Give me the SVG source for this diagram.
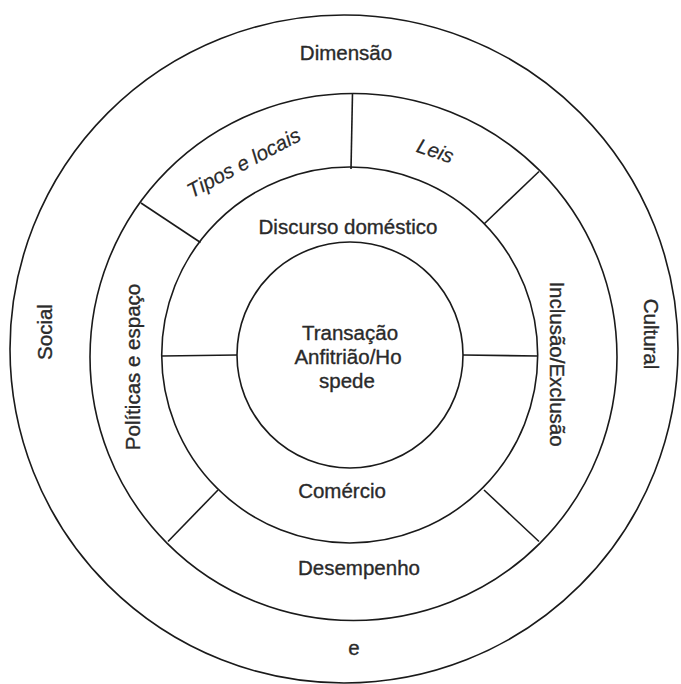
<svg xmlns="http://www.w3.org/2000/svg" width="681" height="684" viewBox="0 0 681 684">
<style>
.ring{fill:none;stroke:#1a1a1a;stroke-width:1.6}
.div{stroke:#1a1a1a;stroke-width:1.6;fill:none}
text{font-family:"Liberation Sans",Arial,sans-serif;font-size:20.5px;fill:#2a2a2a;stroke:#2a2a2a;stroke-width:0.35;text-anchor:middle}
.it{font-style:italic;stroke-width:0.2}
</style>
<rect width="681" height="684" fill="#fff"/>
<g id="ring-outer">
<circle class="ring" cx="344" cy="349" r="334"/>
<text x="346" y="59.5">Dimensão</text>
<text transform="translate(51.5,332) rotate(-90)">Social</text>
<text transform="translate(644,334) rotate(90)">Cultural</text>
<text x="354" y="655">e</text>
</g>
<g id="ring-middle">
<circle class="ring" cx="353.5" cy="357" r="263.5"/>
<text class="it" transform="translate(247,169) rotate(-28)">Tipos e locais</text>
<text class="it" transform="translate(433,157.5) rotate(19)">Leis</text>
<text transform="translate(140,367) rotate(-90)">Políticas e espaço</text>
<text transform="translate(549.5,364) rotate(90)">Inclusão/Exclusão</text>
<text x="359" y="575">Desempenho</text>
</g>
<g id="ring-inner">
<circle class="ring" cx="349.7" cy="355" r="188"/>
<text x="348" y="233.5">Discurso doméstico</text>
<text x="342" y="498">Comércio</text>
</g>
<g id="core">
<circle class="ring" cx="350" cy="355" r="113"/>
<text x="350" y="340">Transação</text>
<text x="348" y="364">Anfitrião/Ho</text>
<text x="347" y="388">spede</text>
</g>
<g id="connectors">
<line class="div" x1="352.5" y1="93" x2="351" y2="169"/>
<line class="div" x1="141" y1="203" x2="200.5" y2="242.5"/>
<line class="div" x1="539" y1="171.5" x2="484" y2="224"/>
<line class="div" x1="162" y1="356" x2="237" y2="355"/>
<line class="div" x1="463" y1="355" x2="538" y2="356"/>
<line class="div" x1="218" y1="490" x2="168" y2="541.5"/>
<line class="div" x1="484" y1="490" x2="539" y2="541.5"/>
</g>
</svg>
